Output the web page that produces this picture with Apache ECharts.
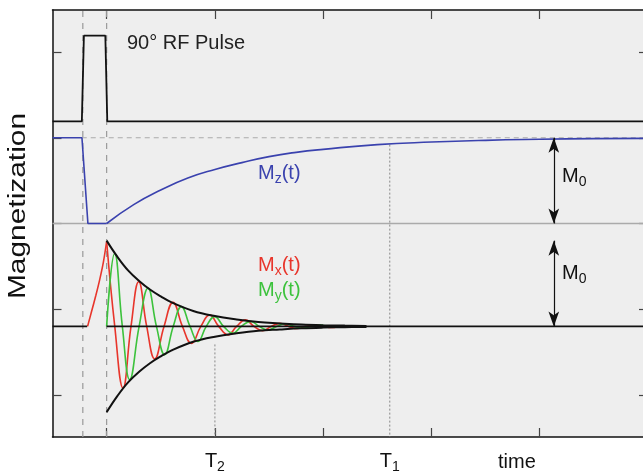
<!DOCTYPE html>
<html>
<head>
<meta charset="utf-8">
<script src="https://cdn.jsdelivr.net/npm/echarts@6/dist/echarts.min.js"></script>
<style>
  html, body { margin: 0; padding: 0; background: #ffffff; }
  #chart { width: 643px; height: 475px; }
</style>
</head>
<body>
<div id="chart"></div>
<script>
// ---- Data (time in axis units, magnetization in units of M0) ----
const timeTicks = [0, 1, 2, 3, 4, 5];
const levelTicks = [-0.8, 0.2, 1.2, 2.2, 3.2];
const timeLabelValues = [1, 2.615];
const timeLabelSubs = ['2', '1'];

const pulseStart = -0.22;
const pulseEnd = 0;
const t2Mark = [[1, -0.21], [1, -1.29]];
const t1Mark = [[2.615, 0.92], [2.615, -2.49]];

// RF pulse amplitude
const rfPulse = [[-0.5, 0], [-0.229, 0], [-0.21, 1], [-0.012, 1], [0.006, 0], [5, 0]];

// Longitudinal magnetization
const mzTip = [[-0.5, 1], [-0.228, 1], [-0.173, 0], [0, 0]];
const mzRecovery = [[0, 0], [0.25, 0.22], [0.5, 0.39], [0.75, 0.53], [1, 0.63],
  [1.25, 0.71], [1.5, 0.78], [1.75, 0.83], [2, 0.865], [2.5, 0.92], [3, 0.95],
  [3.5, 0.97], [4, 0.982], [4.5, 0.99], [5, 0.993]];

// Transverse magnetization
const mxRise = [[-0.176, 0], [-0.14, 0.17], [-0.1, 0.36], [-0.065, 0.54], [-0.03, 0.75], [0, 0.99]];
const mxDecay = [[0, 0.99], [0.075, 0], [0.151, -0.72], [0.225, 0], [0.296, 0.52], [0.37, 0],
  [0.444, -0.38], [0.53, 0], [0.613, 0.28], [0.70, 0], [0.783, -0.2], [0.87, 0],
  [0.952, 0.134], [1.035, 0], [1.121, -0.099], [1.2, 0], [1.282, 0.076], [1.36, 0],
  [1.44, -0.05], [1.52, 0], [1.6, 0.035], [1.68, 0], [1.76, -0.025], [1.84, 0],
  [1.92, 0.017], [2.0, 0], [2.08, -0.012], [2.16, 0], [2.24, 0.008], [2.32, 0]];
const myDecay = [[0, 0], [0.074, 0.85], [0.145, 0], [0.213, -0.62], [0.30, 0], [0.382, 0.445],
  [0.46, 0], [0.536, -0.33], [0.615, 0], [0.69, 0.23], [0.77, 0], [0.844, -0.177],
  [0.92, 0], [0.998, 0.114], [1.08, 0], [1.167, -0.08], [1.245, 0], [1.33, 0.058],
  [1.41, 0], [1.49, -0.042], [1.57, 0], [1.65, 0.03], [1.73, 0], [1.81, -0.021],
  [1.89, 0], [1.97, 0.015], [2.05, 0], [2.13, -0.01], [2.21, 0]];
const envelope = [[0, 1], [0.1, 0.81], [0.2, 0.65], [0.3, 0.53], [0.4, 0.43], [0.5, 0.35],
  [0.6, 0.28], [0.8, 0.18], [1.0, 0.12], [1.2, 0.08], [1.4, 0.05], [1.6, 0.035],
  [1.8, 0.022], [2.0, 0.014], [2.2, 0.009], [2.4, 0.006]];

const arrowTime = 4.13;

// ---- Panel layout: each trace sits on its own baseline of the shared axis ----
const RF_BASE = 2.39;
const MZ_BASE = 1.2;
const MXY_BASE = 0;
const Y_MIN = -1.29, Y_MAX = 3.69;

const shift = (arr, base, sign) => arr.map(p => [p[0], base + (sign || 1) * p[1]]);

const FONT = 'Liberation Sans, Arial, Helvetica, sans-serif';
const BLUE = '#3a42ae', RED = '#e8352b', GREEN = '#3cc23c';

function lineSeries(data, color, width, extra) {
  return Object.assign({
    type: 'line', data: data, showSymbol: false, symbol: 'none',
    lineStyle: { color: color, width: width }, silent: true, animation: false
  }, extra || {});
}

const chart = echarts.init(document.getElementById('chart'), null, { renderer: 'canvas' });

function richColored(color) {
  return {
    m: { fontSize: 20, fontFamily: FONT, lineHeight: 26, verticalAlign: 'middle', fill: color, color: color },
    s: { fontSize: 14, fontFamily: FONT, lineHeight: 14, verticalAlign: 'bottom', fill: color, color: color }
  };
}

const tickStyle = { show: true, inside: true, length: 9, lineStyle: { color: '#444', width: 1.2 } };
const frameLine = { show: true, onZero: false, lineStyle: { color: '#111', width: 1.5 } };

chart.setOption({
  animation: false,
  backgroundColor: '#ffffff',
  grid: {
    left: 52.5, top: 10, width: 595.5, height: 427,
    outerBoundsMode: 'none', containLabel: false,
    show: true, backgroundColor: '#eeeeee', borderWidth: 0
  },
  xAxis: [{
    type: 'value', min: -0.5, max: 5, position: 'bottom',
    axisLine: frameLine,
    axisTick: Object.assign({ customValues: timeTicks }, tickStyle),
    axisLabel: {
      customValues: timeLabelValues, margin: 11, color: '#111',
      formatter: function (v) {
        const i = timeLabelValues.findIndex(x => Math.abs(x - v) < 1e-6);
        return i < 0 ? '' : '{m|T}{s|' + timeLabelSubs[i] + '}';
      },
      rich: richColored('#111')
    },
    splitLine: { show: false }
  }, {
    type: 'value', min: -0.5, max: 5, position: 'top',
    axisLine: frameLine,
    axisTick: Object.assign({ customValues: timeTicks }, tickStyle),
    axisLabel: { show: false }, splitLine: { show: false }
  }],
  yAxis: [{
    type: 'value', min: Y_MIN, max: Y_MAX, position: 'left',
    axisLine: frameLine,
    axisTick: Object.assign({ customValues: levelTicks }, tickStyle),
    axisLabel: { show: false }, splitLine: { show: false }
  }, {
    type: 'value', min: Y_MIN, max: Y_MAX, position: 'right',
    axisLine: frameLine,
    axisTick: Object.assign({ customValues: levelTicks }, tickStyle),
    axisLabel: { show: false }, splitLine: { show: false }
  }],
  series: [
    // reference levels
    lineSeries([[-0.5, MZ_BASE], [5, MZ_BASE]], '#aaaaaa', 1.5),
    lineSeries([[-0.23, MZ_BASE + 1], [5, MZ_BASE + 1]], '#aaaaaa', 1.2,
      { lineStyle: { color: '#aaaaaa', width: 1.2, type: [5, 4] } }),
    lineSeries([[pulseStart, Y_MIN], [pulseStart, Y_MAX]], '#999999', 1.2,
      { lineStyle: { color: '#999999', width: 1.2, type: [6, 6] } }),
    lineSeries([[pulseEnd, Y_MIN], [pulseEnd, Y_MAX]], '#999999', 1.2,
      { lineStyle: { color: '#999999', width: 1.2, type: [6, 6] } }),
    lineSeries(t2Mark, '#888888', 1, { lineStyle: { color: '#888888', width: 1, type: [2, 2] } }),
    lineSeries(shift(t1Mark, MZ_BASE), '#888888', 1, { lineStyle: { color: '#888888', width: 1, type: [2, 2] } }),
    // RF pulse
    lineSeries(shift(rfPulse, RF_BASE), '#111111', 1.8),
    // Mz
    lineSeries(shift(mzTip, MZ_BASE), BLUE, 1.6),
    lineSeries(shift(mzRecovery, MZ_BASE), BLUE, 1.6, { smooth: 0.5 }),
    // Mx / My
    lineSeries(shift(mxRise, MXY_BASE), RED, 1.6, { smooth: 0.3 }),
    lineSeries(shift(mxDecay, MXY_BASE), RED, 1.6, { smooth: 0.45 }),
    lineSeries(shift(myDecay, MXY_BASE), GREEN, 1.6, { smooth: 0.45 }),
    // baseline and envelope
    lineSeries([[-0.5, MXY_BASE], [pulseStart + 0.04, MXY_BASE]], '#111111', 1.8),
    lineSeries([[pulseEnd, MXY_BASE], [5, MXY_BASE]], '#111111', 1.8),
    lineSeries(shift(envelope, MXY_BASE), '#111111', 2, { smooth: 0.4 }),
    lineSeries(shift(envelope, MXY_BASE, -1), '#111111', 2, { smooth: 0.4 }),
    // M0 arrows
    {
      type: 'line', data: [], silent: true, animation: false,
      markLine: {
        silent: true, animation: false,
        symbol: ['arrow', 'arrow'], symbolSize: [8, 15],
        label: { show: false },
        lineStyle: { color: '#111111', width: 1.2, type: 'solid' },
        data: [
          [{ coord: [arrowTime, MZ_BASE] }, { coord: [arrowTime, MZ_BASE + 1] }],
          [{ coord: [arrowTime, MXY_BASE] }, { coord: [arrowTime, MXY_BASE + 1] }]
        ]
      }
    }
  ],
  graphic: [
    { type: 'text', left: 127, top: 33, silent: true,
      style: { text: '90° RF Pulse', fontSize: 20, fontFamily: FONT, fill: '#222222' } },
    { type: 'text', left: 258, top: 163, silent: true,
      style: { text: '{m|M}{s|z}{m|(t)}', rich: richColored(BLUE) } },
    { type: 'text', left: 258, top: 255, silent: true,
      style: { text: '{m|M}{s|x}{m|(t)}', rich: richColored(RED) } },
    { type: 'text', left: 258, top: 280, silent: true,
      style: { text: '{m|M}{s|y}{m|(t)}', rich: richColored(GREEN) } },
    { type: 'text', left: 562, top: 166, silent: true,
      style: { text: '{m|M}{s|0}', rich: richColored('#111111') } },
    { type: 'text', left: 562, top: 263, silent: true,
      style: { text: '{m|M}{s|0}', rich: richColored('#111111') } },
    { type: 'text', left: 498, top: 452, silent: true,
      style: { text: 'time', fontSize: 20, fontFamily: FONT, fill: '#111111' } },
    { type: 'text', x: 19, y: 206, rotation: Math.PI / 2, scaleX: 1.3, silent: true,
      style: { text: 'Magnetization', fontSize: 23, fontFamily: FONT, fill: '#111111',
        align: 'center', verticalAlign: 'middle' } }
  ]
});
</script>
</body>
</html>
